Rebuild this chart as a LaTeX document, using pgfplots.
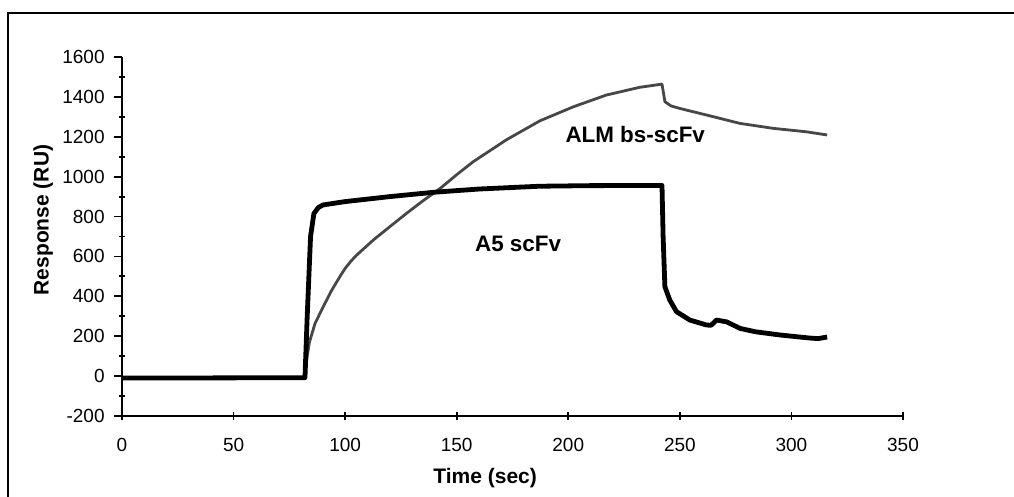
\documentclass[border=0pt]{standalone}
\usepackage{fontspec}
\setmainfont{Liberation Sans}
\usepackage{pgfplots}
\pgfplotsset{compat=1.18}

\begin{document}
\begin{tikzpicture}
% page = 1014 x 497 px at 0.5pt per px
\path[use as bounding box] (0,0) rectangle (507pt,248.5pt);
\draw[line width=1pt] (4.2pt,0) -- (4.2pt,242.2pt) -- (507pt,242.2pt);

\begin{axis}[
    at={(61pt,40.5pt)}, anchor=south west,
    scale only axis,
    width=390.5pt, height=179.5pt,
    xmin=0, xmax=350, ymin=-200, ymax=1600,
    axis lines*=left,
    axis line style={line width=1.1pt},
    every tick/.style={black, line width=0.9pt},
    tick align=outside,
    major tick length=4pt,
    minor tick length=2.6pt,
    minor tick style={xshift=1.3pt},
    ytick={-200,0,...,1600},
    minor y tick num=1,
    xtick=\empty,
    extra x ticks={0,50,...,350},
    extra x tick style={tick align=center},
    /pgf/number format/assume math mode=true,
    /pgf/number format/1000 sep={},
    xticklabel style={anchor=north, inner sep=0pt, yshift=-9pt,
        font=\fontsize{9.5}{10}\selectfont},
    yticklabel style={anchor=east, inner sep=0pt, xshift=-4.5pt,
        font=\fontsize{9.5}{10}\selectfont},
    xlabel={Time (sec)},
    ylabel={Response (RU)},
    label style={font=\bfseries\fontsize{10.5}{12}\selectfont},
    xlabel style={at={(axis description cs:0.465,-0.173)}, anchor=center},
    ylabel style={at={(axis description cs:-0.101,0.546)}, anchor=center, rotate=0},
    clip=false,
]

% ALM bs-scFv
\addplot[black!72, line width=1.4pt, line join=round] coordinates {
    (0,-10) (82,-10) (82.7,80) (84,170) (86.5,264) (90.2,348) (94,431)
    (97.7,500) (100,540) (102.5,575) (105,605) (112.6,682) (120,749)
    (127.5,816) (135,880) (142.5,940) (150,1010) (157.4,1075)
    (172.3,1185) (187.3,1280) (202.2,1350) (217,1409) (232,1448)
    (242,1464) (243.3,1376) (246,1355) (250,1342) (262,1309)
    (277,1267) (292,1242) (306.7,1225) (316,1209)
};

% A5 scFv
\addplot[black, line width=2.4pt, line join=round] coordinates {
    (0,-10) (82,-8) (83,300) (84.5,700) (86,815) (88,845) (90,858)
    (100,875) (120,900) (140,922) (160,938) (187,952) (210,955)
    (242,956) (242.5,700) (243.3,448) (245.5,381) (248.5,323)
    (254.5,281) (262,256) (264,255) (266.4,281) (271,272) (277,239)
    (284,222) (295,206) (308,191) (312,188) (316,196)
};

\node[font=\bfseries\fontsize{11.2}{13}\selectfont] at (axis cs:230,1209) {ALM bs-scFv};
\node[font=\bfseries\fontsize{11.2}{13}\selectfont] at (axis cs:177.5,665) {A5 scFv};
\end{axis}
\end{tikzpicture}
\end{document}
